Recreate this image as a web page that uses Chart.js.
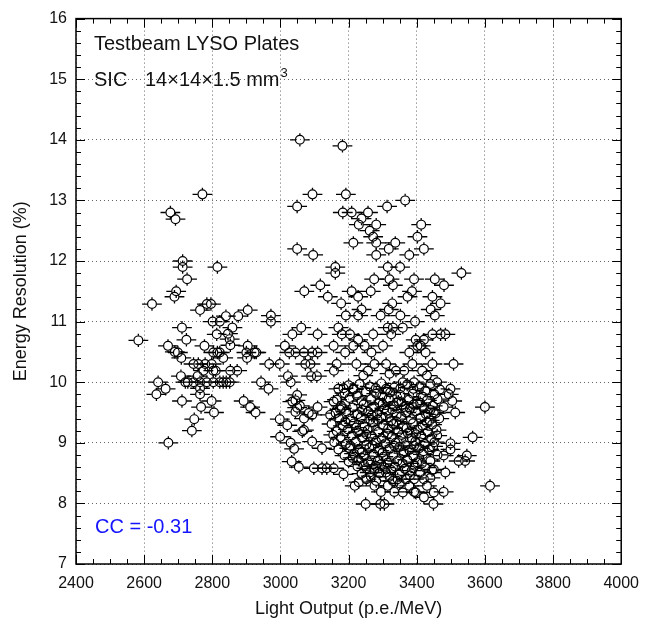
<!DOCTYPE html>
<html>
<head>
<meta charset="utf-8">
<script src="https://cdn.jsdelivr.net/npm/chart.js@4.4.1/dist/chart.umd.min.js"></script>
<style>
  html, body { margin: 0; padding: 0; background: #fff; }
  #wrap { width: 649px; height: 627px; position: relative; }
</style>
</head>
<body>
<div id="wrap"><canvas id="lysoChart" width="649" height="627"></canvas></div>
<script>
// axis ranges / ticks
const xRange = [2400, 4000];
const yRange = [7, 16];
const xStep = 200;
const yStep = 1;
const xMinorStep = 50;
const yMinorStep = 0.2;

// per-point errors (p.e./MeV, %)
const errLO = 29;
const errER = 0.11;

// sparse points: light output, energy resolution
const edgeLO = [2583,2623,2641,2663,2636,2670,2671,2677,2692,2694,2689,2690,2699,2709,2708,2711,2711,2713,2713,2721,2728,2724,2726,2740,2745,2745,2747,2757,2759,2764,2764,2764,2764,2767,2771,2774,2777,2779,2784,2784,2796,2798,2798,2801,2803,2803,2803,2805,2810,2813,2815,2815,2822,2822,2822,2832,2832,2840,2841,2846,2851,2851,2853,2853,2859,2873,2876,2892,2900,2902,2904,2904,2911,2924,2927,2929,2943,2965,2967,2972,2972,2998,2998,2999,3013,3020,3022,3026,3030,3030,3033,3035,3035,3040,3044,3044,3044,3049,3049,3049,3049,3054,3057,3057,3061,3064,3069,3069,3069,3070,3073,3083,3088,3090,3093,3093,3093,3094,3096,3098,3107,3109,3109,3109,3117,3122,3122,3136,3139,3146,3156,3156,3156,3157,3161,3161,3165,3170,3170,3170,3178,3180,3180,3182,3183,3185,3190,3192,3192,3204,3209,3209,3214,3214,3214,3218,3223,3228,3228,3228,3230,3238,3238,3243,3247,3250,3252,3257,3257,3262,3262,3265,3267,3272,3272,3275,3276,3276,3281,3281,3281,3281,3281,3293,3294,3295,3301,3305,3310,3310,3310,3313,3315,3315,3315,3318,3318,3320,3320,3325,3328,3330,3330,3330,3334,3337,3339,3344,3351,3352,3359,3359,3359,3363,3366,3368,3373,3378,3378,3378,3386,3387,3392,3392,3392,3392,3395,3397,3397,3402,3402,3412,3413,3416,3421,3421,3421,3421,3426,3430,3430,3441,3446,3446,3446,3449,3450,3450,3450,3453,3453,3460,3470,3470,3479,3479,3479,3480,3484,3484,3494,3499,3499,3499,3504,3508,3513,3523,3531,3542,3547,3564,3600,3615];
const edgeER = [10.69,11.29,10.0,9.89,9.80,10.60,9.0,12.80,12.69,11.50,11.41,10.50,10.49,10.40,10.10,10.90,9.69,12.0,11.9,10.0,10.0,10.70,11.70,9.20,10.30,10.0,9.39,10.10,10.30,11.19,10.0,9.9,9.8,9.59,13.1,10.19,10.6,10.30,11.29,10.0,11.29,10.30,9.69,11.0,10.49,10.19,10.0,9.50,10.19,10.79,11.90,10.49,11.0,10.49,10.0,10.40,10.0,11.09,10.0,10.80,10.71,10.0,10.61,10.19,10.9,10.19,11.09,9.69,10.49,10.40,11.19,10.6,9.59,10.49,9.50,10.49,10.0,9.89,10.3,11.1,11.0,10.3,9.39,9.10,10.60,9.29,10.10,10.49,10.0,9.0,8.69,10.79,9.68,8.90,10.49,9.70,9.51,12.90,12.20,9.79,9.58,8.60,14.0,9.61,10.9,9.19,10.49,9.40,9.21,11.5,10.3,9.49,10.30,10.10,10.49,9.46,9.02,13.10,12.10,8.58,10.10,10.79,10.49,9.59,11.60,8.91,8.58,8.58,11.41,9.46,10.60,9.68,8.58,10.19,11.90,11.80,10.30,10.90,9.89,8.89,11.30,10.79,9.57,13.90,12.80,8.48,10.49,13.10,11.10,10.79,12.80,11.50,12.30,10.60,9.89,8.29,10.30,11.41,11.10,10.70,12.60,12.70,11.20,10.11,10.60,7.99,8.40,12.80,10.19,12.50,8.51,11.50,10.49,12.40,10.79,11.70,10.30,8.29,12.60,12.30,12.10,9.81,8.37,7.99,11.10,8.19,10.60,7.99,10.30,9.89,8.51,12.90,11.90,10.90,8.29,12.20,11.20,11.70,10.14,10.79,11.30,11.60,10.90,8.37,8.19,12.30,10.19,8.40,11.90,11.10,10.90,10.0,8.18,10.19,13.0,8.40,11.41,12.10,10.49,8.29,11.50,10.30,11.70,10.0,8.40,8.19,11.0,10.70,8.18,12.40,10.60,10.60,12.60,10.19,12.20,10.70,8.40,8.10,10.49,10.11,8.29,11.20,11.41,10.79,10.30,7.99,9.50,8.56,8.18,11.70,11.10,10.0,11.30,10.79,9.59,8.79,8.19,11.60,10.79,8.51,9.80,9.89,8.99,8.89,9.69,10.30,9.50,8.70,11.80,8.70,8.79,9.09,9.59,8.29];

// dense core, estimated
const coreLO = [3200,3232,3262,3296,3334,3372,3408,3440,3468, 3188,3224,3251,3299,3322,3352,3388,3418,3452, 3166,3203,3238,3266,3290,3318,3346,3377,3401,3430,3461, 3178,3212,3244,3275,3305,3333,3362,3391,3420,3447, 3162,3193,3226,3258,3284,3312,3341,3369,3398,3427,3456, 3172,3206,3236,3264,3296,3325,3354,3383,3411,3438,3466, 3150,3183,3216,3247,3272,3302,3331,3360,3389,3417,3445, 3165,3198,3228,3256,3287,3316,3346,3374,3403,3432,3458, 3176,3209,3240,3268,3297,3327,3356,3385,3413,3442, 3158,3192,3221,3252,3280,3308,3338,3367,3396,3424,3452, 3202,3232,3261,3290,3320,3349,3378,3407,3436, 3188,3216,3245,3273,3302,3331,3361,3390,3418,3461, 3200,3229,3257,3286,3314,3343,3372,3401,3440, 3226,3252,3279,3306,3336,3365,3394,3425, 3238,3290,3350,3410];
const coreER = [9.95,9.97,9.93,9.98,9.91,9.96,9.92,9.97,9.88, 9.82,9.78,9.84,9.77,9.83,9.79,9.81,9.76,9.80, 9.71,9.74,9.69,9.72,9.66,9.73,9.68,9.71,9.65,9.70,9.72, 9.61,9.58,9.63,9.60,9.57,9.62,9.59,9.63,9.57,9.61, 9.49,9.52,9.47,9.51,9.48,9.53,9.46,9.50,9.52,9.47,9.49, 9.40,9.37,9.42,9.38,9.41,9.36,9.43,9.39,9.41,9.37,9.40, 9.31,9.28,9.32,9.27,9.33,9.29,9.31,9.26,9.32,9.28,9.30, 9.19,9.22,9.17,9.21,9.18,9.23,9.19,9.16,9.22,9.18,9.21, 9.09,9.12,9.08,9.11,9.07,9.10,9.13,9.08,9.11,9.07, 9.01,8.98,9.02,8.97,9.03,8.99,9.00,8.96,9.02,8.98,9.01, 8.91,8.88,8.92,8.87,8.90,8.93,8.88,8.91,8.89, 8.79,8.82,8.78,8.81,8.77,8.80,8.83,8.78,8.81,8.80, 8.69,8.72,8.68,8.71,8.67,8.70,8.72,8.68,8.70, 8.61,8.58,8.62,8.59,8.61,8.57,8.62,8.59, 8.49,8.50,8.48,8.51];

// more core points, filling between the rows above
const fillLO = [3185,3215,3280,3315,3352,3390,3425, 3175,3240,3268,3300,3328,3355,3380,3410,3440, 3155,3190,3222,3252,3285,3315,3340,3370,3398,3430,3460, 3205,3238,3270,3300,3334,3362,3392,3420,3448, 3212,3245,3275,3296,3325,3358,3385,3415,3445, 3265,3320,3380,3440,3230,3350];
const fillER = [9.90,9.88,9.90,9.87,9.90,9.89,9.86, 9.55,9.54,9.45,9.64,9.55,9.67,9.56,9.66,9.54, 9.13,9.35,9.25,9.14,9.38,9.15,9.35,9.24,9.14,9.34,9.12, 8.95,8.84,8.96,8.84,8.95,8.86,8.95,8.86,8.94, 8.75,8.64,8.55,8.65,8.55,8.66,8.54,8.66,8.55, 8.45,8.44,8.46,8.42,8.35,8.33];

const FONT = '"Liberation Sans", Arial, Helvetica, sans-serif';
const INK = '#111';

function pairs(xs, ys) {
  return xs.map((x, i) => ({ x: x, y: ys[i] }));
}

// horizontal / vertical error bars, gapped at the marker
const errorBars = {
  id: 'errorBars',
  beforeDatasetsDraw(chart) {
    const ctx = chart.ctx;
    const xs = chart.scales.x;
    const ys = chart.scales.y;
    ctx.save();
    ctx.strokeStyle = '#000';
    ctx.lineWidth = 1.3;
    chart.data.datasets.forEach((ds) => {
      const r = ds.pointRadius + 0.2;
      ds.data.forEach((p) => {
        const px = xs.getPixelForValue(p.x);
        const py = ys.getPixelForValue(p.y);
        const xl = xs.getPixelForValue(p.x - errLO);
        const xr = xs.getPixelForValue(p.x + errLO);
        const yt = ys.getPixelForValue(p.y + errER);
        const yb = ys.getPixelForValue(p.y - errER);
        ctx.beginPath();
        ctx.moveTo(xl, py); ctx.lineTo(px - r, py);
        ctx.moveTo(px + r, py); ctx.lineTo(xr, py);
        if (yt < py - r) { ctx.moveTo(px, yt); ctx.lineTo(px, py - r); }
        if (yb > py + r) { ctx.moveTo(px, py + r); ctx.lineTo(px, yb); }
        ctx.stroke();
      });
    });
    ctx.restore();
  }
};

// frame, inward ticks on all four sides, text
const frameAndText = {
  id: 'frameAndText',
  afterDraw(chart) {
    const ctx = chart.ctx;
    const a = chart.chartArea;
    const xs = chart.scales.x;
    const ys = chart.scales.y;
    ctx.save();
    ctx.strokeStyle = '#000';
    ctx.lineWidth = 1;
    ctx.beginPath();
    for (let v = xRange[0]; v <= xRange[1] + 1e-6; v += xMinorStep) {
      const px = Math.round(xs.getPixelForValue(v)) + 0.5;
      const len = (Math.abs(v % xStep) < 1e-6) ? 9 : 5;
      ctx.moveTo(px, a.bottom); ctx.lineTo(px, a.bottom - len);
      ctx.moveTo(px, a.top); ctx.lineTo(px, a.top + len);
    }
    for (let k = 0; k <= Math.round((yRange[1] - yRange[0]) / yMinorStep); k++) {
      const v = yRange[0] + k * yMinorStep;
      const py = Math.round(ys.getPixelForValue(v)) + 0.5;
      const len = (k % 5 === 0) ? 9 : 5;
      ctx.moveTo(a.left, py); ctx.lineTo(a.left + len, py);
      ctx.moveTo(a.right, py); ctx.lineTo(a.right - len, py);
    }
    ctx.stroke();
    ctx.lineWidth = 1.5;
    ctx.strokeRect(a.left, a.top, a.right - a.left, a.bottom - a.top);

    ctx.fillStyle = INK;
    ctx.textBaseline = 'alphabetic';
    ctx.textAlign = 'left';
    ctx.font = '20px ' + FONT;
    ctx.fillText('Testbeam LYSO Plates', 94, 50);
    ctx.fillText('SIC', 94, 86);
    ctx.fillText('14\u00d714\u00d71.5 mm', 145, 86);
    const w = ctx.measureText('14\u00d714\u00d71.5 mm').width;
    ctx.font = '13px ' + FONT;
    ctx.fillText('3', 145 + w + 1, 77);

    ctx.fillStyle = '#1414ff';
    ctx.font = '20px ' + FONT;
    ctx.fillText('CC = -0.31', 95, 533);

    ctx.fillStyle = INK;
    ctx.font = '18px ' + FONT;
    ctx.textAlign = 'center';
    ctx.fillText('Light Output (p.e./MeV)', (a.left + a.right) / 2, 614);
    ctx.translate(26, (a.top + a.bottom) / 2);
    ctx.rotate(-Math.PI / 2);
    ctx.fillText('Energy Resolution (%)', 0, 0);
    ctx.restore();
  }
};

const pointStyle = {
  pointRadius: 4.4,
  pointHoverRadius: 4.4,
  pointBorderColor: '#000',
  pointBackgroundColor: 'rgba(0,0,0,0)',
  pointBorderWidth: 1.2,
  showLine: false
};

new Chart(document.getElementById('lysoChart').getContext('2d'), {
  type: 'scatter',
  data: {
    datasets: [
      Object.assign({ label: 'plates', data: pairs(edgeLO, edgeER) }, pointStyle),
      Object.assign({ label: 'core', data: pairs(coreLO, coreER) }, pointStyle),
      Object.assign({ label: 'core fill', data: pairs(fillLO, fillER) }, pointStyle)
    ]
  },
  options: {
    responsive: false,
    animation: false,
    events: [],
    layout: { padding: { top: 13, right: 21, left: 0, bottom: 0 } },
    plugins: { legend: { display: false }, tooltip: { enabled: false } },
    scales: {
      x: {
        type: 'linear',
        min: xRange[0], max: xRange[1],
        afterFit: (s) => { s.height = 63; },
        grid: { color: '#666', lineWidth: 1, drawTicks: false },
        border: { display: false, dash: [1, 3] },
        ticks: { stepSize: xStep, padding: 10, color: INK, font: { family: FONT, size: 16 }, maxRotation: 0,
                 callback: (v) => String(v) }
      },
      y: {
        type: 'linear',
        min: yRange[0], max: yRange[1],
        afterFit: (s) => { s.width = 76; },
        grid: { color: '#666', lineWidth: 1, drawTicks: false },
        border: { display: false, dash: [1, 3] },
        ticks: { stepSize: yStep, padding: 9, color: INK, font: { family: FONT, size: 16 },
                 callback: (v) => String(v) }
      }
    }
  },
  plugins: [errorBars, frameAndText]
});
</script>
</body>
</html>
